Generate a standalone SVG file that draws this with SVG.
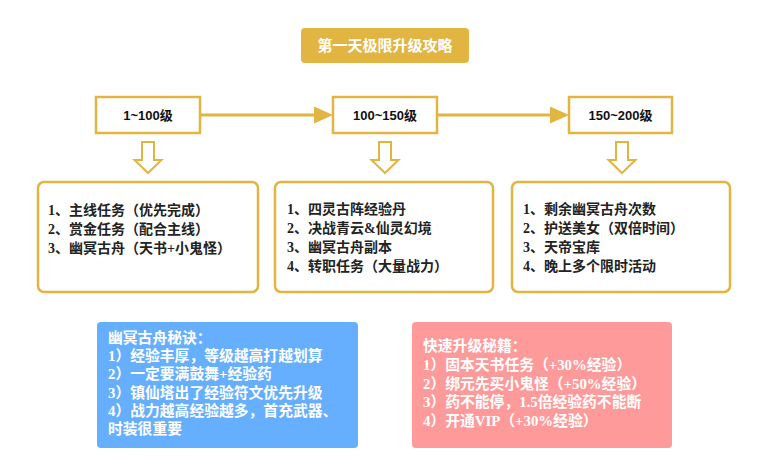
<svg xmlns="http://www.w3.org/2000/svg" width="782" height="466" viewBox="0 0 782 466">
<style>
.gold{fill:none;stroke:#E2B543;stroke-width:2.5}
.lvl{font-family:"Liberation Sans","Noto Sans CJK SC",sans-serif;font-size:13px;font-weight:bold;fill:#111;text-anchor:middle}
.item{font-family:"Liberation Serif","Noto Sans CJK SC",serif;font-size:14px;font-weight:bold;fill:#222}
.tip{font-family:"Liberation Serif","Noto Sans CJK SC",serif;font-size:14.8px;font-weight:bold;fill:#fff}
.hollow{fill:#fff;stroke:#E2B543;stroke-width:2;stroke-linejoin:miter}
</style>
<rect width="782" height="466" fill="#fff"/>

<g id="title">
<rect x="301" y="28" width="168" height="35" rx="4" fill="#E2B543"/>
<text x="385" y="51" font-family="'Noto Sans CJK SC',sans-serif" font-size="15" font-weight="bold" fill="#fff" text-anchor="middle">第一天极限升级攻略</text>
</g>

<g id="level1">
<rect class="gold" x="96" y="97" width="104" height="36"/>
<text class="lvl" x="148" y="120">1~100级</text>
</g>
<g id="level2">
<rect class="gold" x="333" y="97" width="104" height="36"/>
<text class="lvl" x="385" y="120">100~150级</text>
</g>
<g id="level3">
<rect class="gold" x="569" y="97" width="103" height="36"/>
<text class="lvl" x="620.5" y="120">150~200级</text>
</g>

<g id="connectors">
<line x1="200" y1="115" x2="321" y2="115" stroke="#E2B543" stroke-width="3"/>
<path d="M314,106.5 L333,115 L314,123.5 z" fill="#E2B543"/>
<line x1="437" y1="115" x2="557" y2="115" stroke="#E2B543" stroke-width="3"/>
<path d="M550,106.5 L569,115 L550,123.5 z" fill="#E2B543"/>
<path class="hollow" d="M142,142 H154 V160 H161.5 L148,173 L134.5,160 H142 Z"/>
<path class="hollow" d="M379,142 H391 V160 H398.5 L385,173 L371.5,160 H379 Z"/>
<path class="hollow" d="M616,142 H628 V160 H635.5 L622,173 L608.5,160 H616 Z"/>
</g>

<g id="list1">
<rect class="gold" x="38" y="182" width="220" height="110" rx="6"/>
<text class="item" x="48" y="215">1、主线任务（优先完成）</text>
<text class="item" x="48" y="234">2、赏金任务（配合主线）</text>
<text class="item" x="48" y="253">3、幽冥古舟（天书+小鬼怪）</text>
</g>
<g id="list2">
<rect class="gold" x="275" y="182" width="218" height="110" rx="6"/>
<text class="item" x="287" y="214">1、四灵古阵经验丹</text>
<text class="item" x="287" y="233">2、决战青云&amp;仙灵幻境</text>
<text class="item" x="287" y="252">3、幽冥古舟副本</text>
<text class="item" x="287" y="271">4、转职任务（大量战力）</text>
</g>
<g id="list3">
<rect class="gold" x="512" y="182" width="218" height="110" rx="6"/>
<text class="item" x="523" y="214">1、剩余幽冥古舟次数</text>
<text class="item" x="523" y="233">2、护送美女（双倍时间）</text>
<text class="item" x="523" y="252">3、天帝宝库</text>
<text class="item" x="523" y="271">4、晚上多个限时活动</text>
</g>

<g id="tips-blue">
<rect x="97" y="322" width="261" height="126" rx="4" fill="#66AFFF"/>
<text class="tip" x="108" y="343">幽冥古舟秘诀：</text>
<text class="tip" x="108" y="361">1）经验丰厚，等级越高打越划算</text>
<text class="tip" x="108" y="379">2）一定要满鼓舞+经验药</text>
<text class="tip" x="108" y="398">3）镇仙塔出了经验符文优先升级</text>
<text class="tip" x="108" y="416">4）战力越高经验越多，首充武器、</text>
<text class="tip" x="108" y="434">时装很重要</text>
</g>

<g id="tips-pink">
<rect x="412" y="322" width="260" height="126" rx="4" fill="#FF9A9A"/>
<text class="tip" x="423" y="351">快速升级秘籍：</text>
<text class="tip" x="423" y="370">1）固本天书任务（+30%经验）</text>
<text class="tip" x="423" y="389">2）绑元先买小鬼怪（+50%经验）</text>
<text class="tip" x="423" y="407">3）药不能停，1.5倍经验药不能断</text>
<text class="tip" x="423" y="426">4）开通VIP（+30%经验）</text>
</g>
</svg>
